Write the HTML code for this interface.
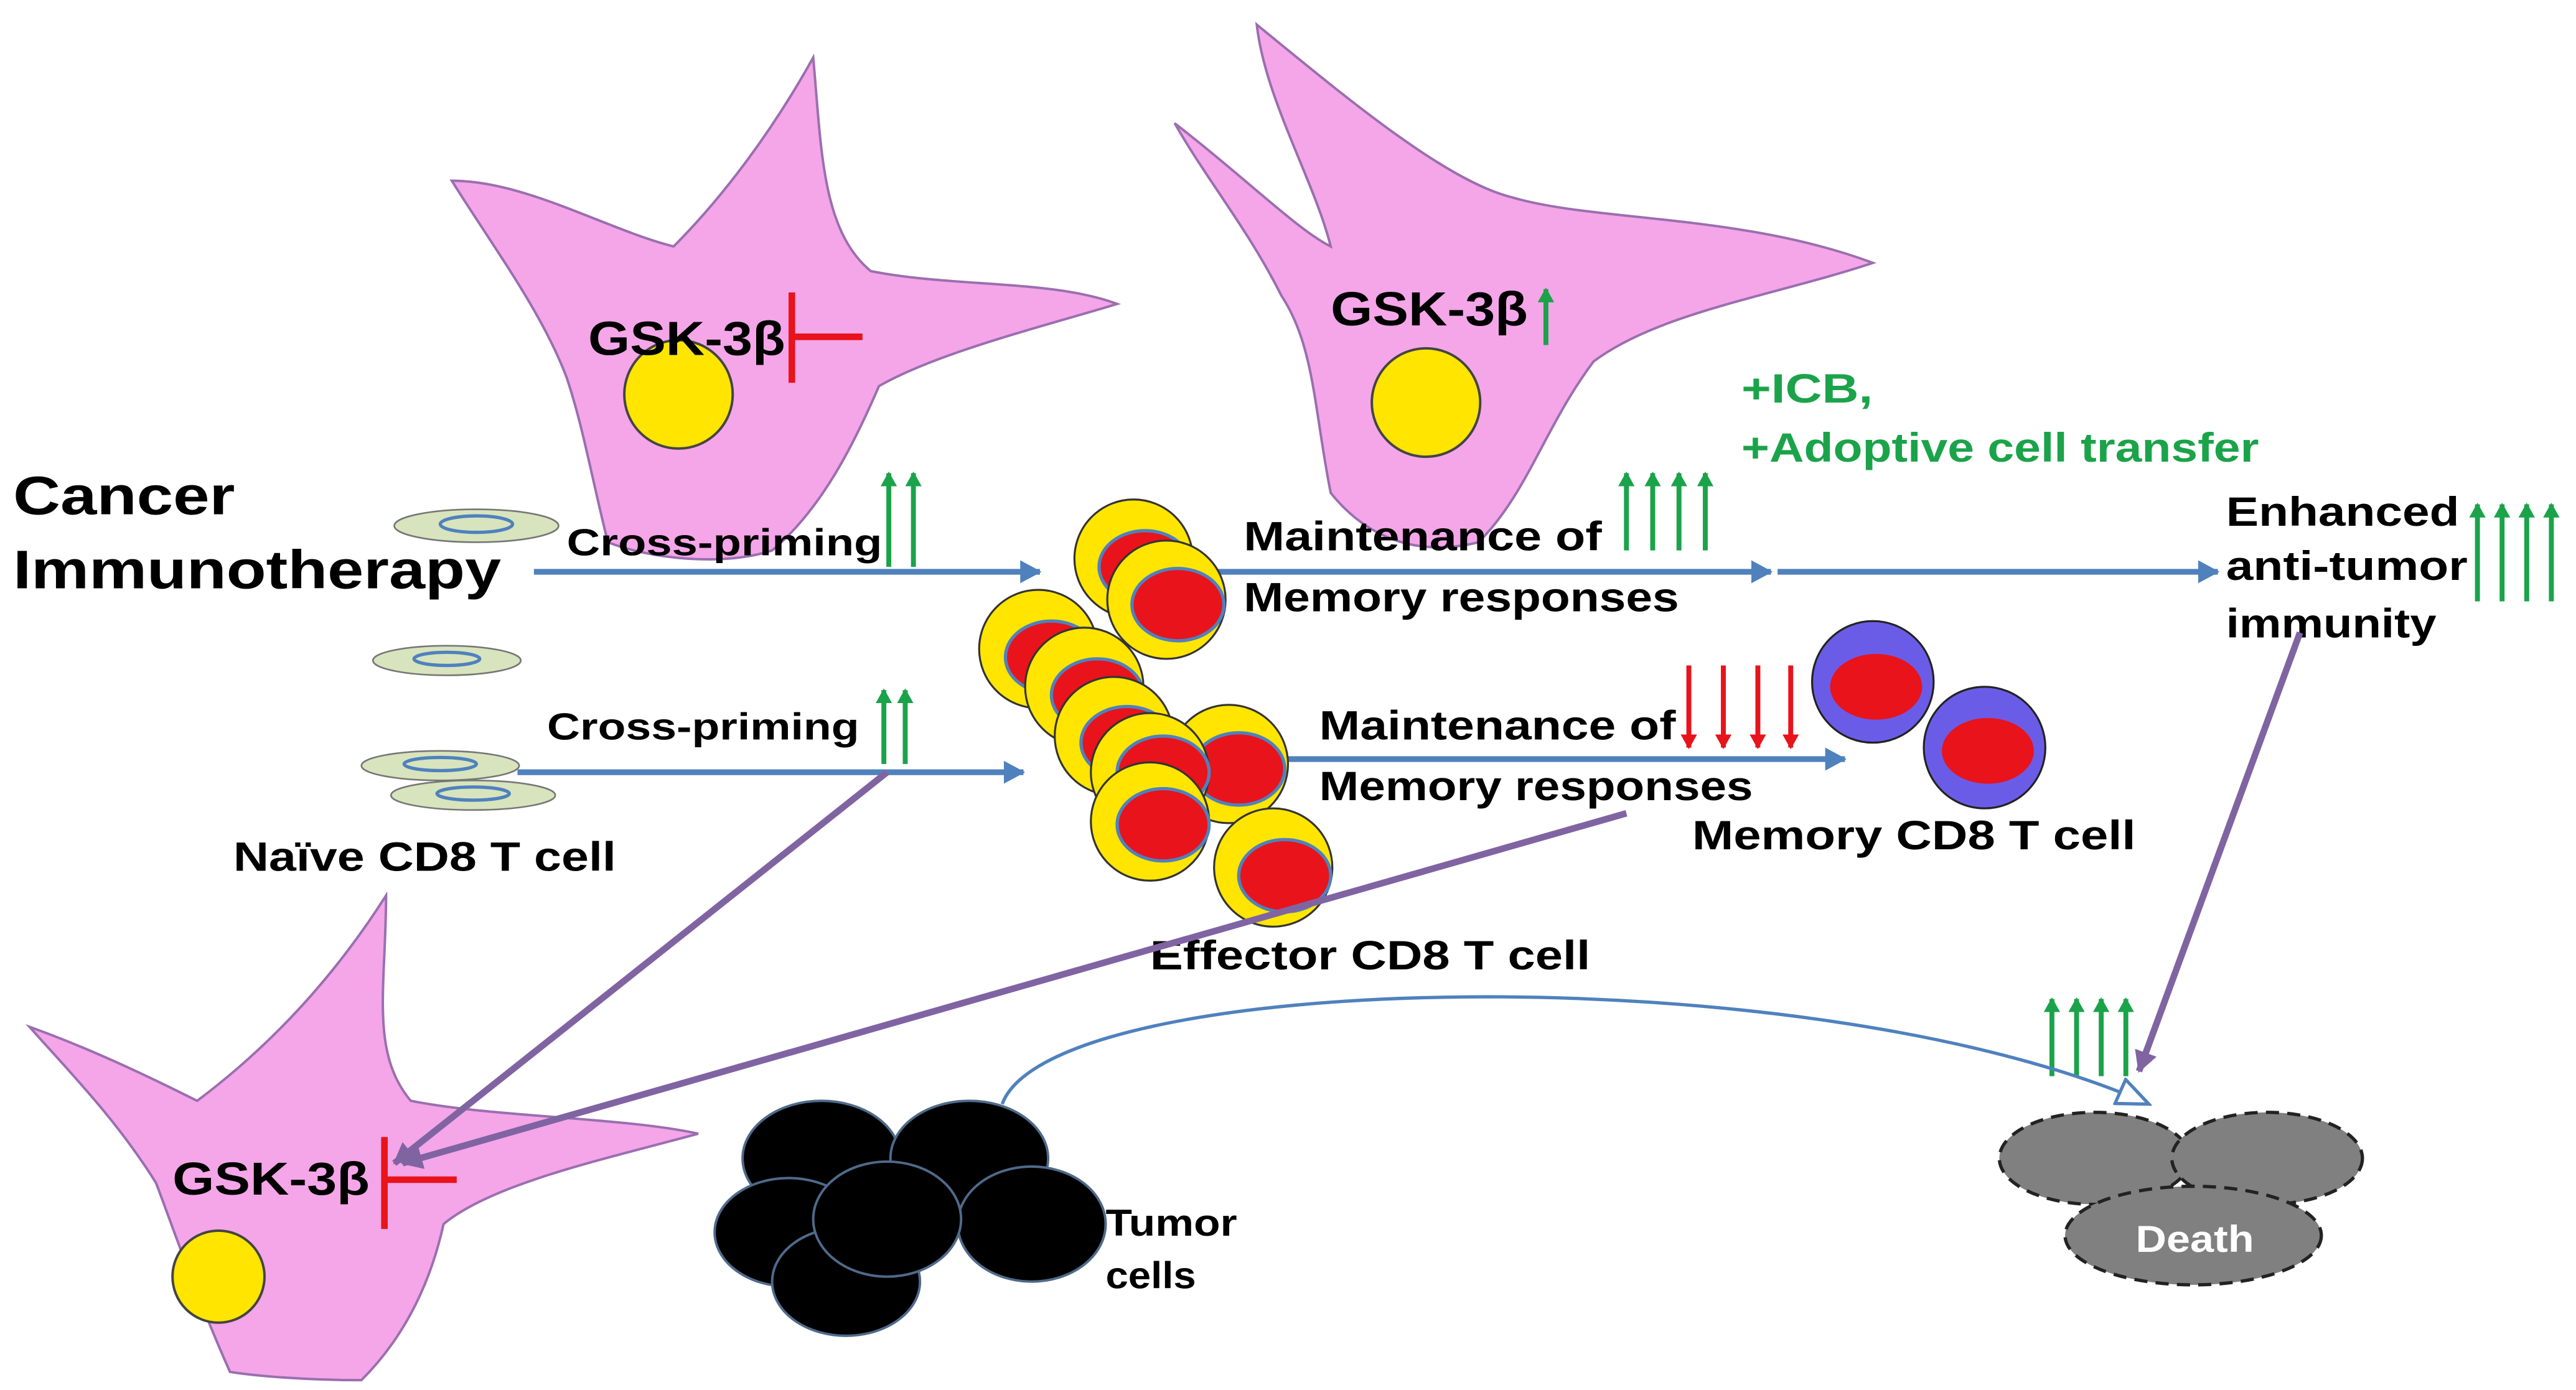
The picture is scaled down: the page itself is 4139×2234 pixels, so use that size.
<!DOCTYPE html>
<html><head><meta charset="utf-8"><style>html,body{margin:0;padding:0;background:#fff}svg{display:block}text{font-family:"Liberation Sans",sans-serif;font-weight:bold}</style></head>
<body>
<svg width="4139" height="2234" viewBox="0 0 1568 846" preserveAspectRatio="none" xmlns="http://www.w3.org/2000/svg">
<defs>
<marker id="bl2" markerWidth="14" markerHeight="14" refX="12" refY="7" orient="auto" markerUnits="userSpaceOnUse"><path d="M0,0 L13,7 L0,14z" fill="#4F81BD"/></marker>
<marker id="pu" markerWidth="14" markerHeight="14" refX="12" refY="7" orient="auto" markerUnits="userSpaceOnUse"><path d="M0,0 L13,7 L0,14z" fill="#8064A2"/></marker>
<marker id="gr" markerWidth="10" markerHeight="10" refX="8" refY="5" orient="auto" markerUnits="userSpaceOnUse"><path d="M0,0 L9,5 L0,10z" fill="#1BA34A"/></marker>
<marker id="rd" markerWidth="10" markerHeight="10" refX="8" refY="5" orient="auto" markerUnits="userSpaceOnUse"><path d="M0,0 L9,5 L0,10z" fill="#E8131B"/></marker>
<marker id="op" markerWidth="22" markerHeight="18" refX="20" refY="9" orient="auto" markerUnits="userSpaceOnUse"><path d="M1,1 L20,9 L1,17z" fill="#fff" stroke="#4F81BD" stroke-width="2"/></marker>
</defs>
<path d="M275,110 C320,110 370,140 410,150 C440,120 470,80 495,35 C500,90 500,140 530,165 C580,175 640,170 680,185 C630,200 570,215 535,235 C520,270 500,310 470,335 C440,345 395,340 370,330 C360,290 355,260 345,230 C330,190 300,150 275,110Z" fill="#F4A6E8" stroke="#9A6FB0" stroke-width="1.5"/>
<path d="M715,75 C760,110 790,140 810,150 C800,110 770,60 765,15 C820,60 880,110 920,120 C970,135 1060,130 1140,160 C1080,180 1010,190 970,220 C940,260 930,300 900,330 C860,340 830,325 810,300 C800,250 800,210 780,180 C760,140 735,110 715,75Z" fill="#F4A6E8" stroke="#9A6FB0" stroke-width="1.5"/>
<path d="M18,625 C60,640 100,660 120,670 C160,640 200,600 235,545 C235,600 225,640 250,670 C300,680 380,680 425,690 C370,705 300,720 270,745 C260,790 240,820 220,840 C190,840 160,838 140,835 C120,790 110,760 95,720 C70,680 40,650 18,625Z" fill="#F4A6E8" stroke="#9A6FB0" stroke-width="1.5"/>
<circle cx="413" cy="240" r="33" fill="#FFE500" stroke="#444" stroke-width="1.5"/>
<circle cx="868" cy="245" r="33" fill="#FFE500" stroke="#444" stroke-width="1.5"/>
<circle cx="133" cy="777" r="28" fill="#FFE500" stroke="#444" stroke-width="1.5"/>
<text x="358" y="216" font-size="29" textLength="120" lengthAdjust="spacingAndGlyphs">GSK-3β</text>
<text x="810" y="198" font-size="29" textLength="120" lengthAdjust="spacingAndGlyphs">GSK-3β</text>
<text x="105" y="727" font-size="28" textLength="120" lengthAdjust="spacingAndGlyphs">GSK-3β</text>
<g stroke="#E8131B" stroke-width="4"><line x1="482" y1="205" x2="525" y2="205"/><line x1="482" y1="178" x2="482" y2="233"/><line x1="234" y1="718" x2="278" y2="718"/><line x1="234" y1="692" x2="234" y2="748"/></g>
<line x1="941" y1="210" x2="941" y2="176" stroke="#1BA34A" stroke-width="3" marker-end="url(#gr)"/>
<text x="8" y="313" font-size="33" textLength="135" lengthAdjust="spacingAndGlyphs">Cancer</text>
<text x="8" y="358" font-size="33" textLength="297" lengthAdjust="spacingAndGlyphs">Immunotherapy</text>
<text x="1060" y="245" font-size="25" fill="#1BA34A" textLength="80" lengthAdjust="spacingAndGlyphs">+ICB,</text>
<text x="1060" y="281" font-size="25" fill="#1BA34A" textLength="315" lengthAdjust="spacingAndGlyphs">+Adoptive cell transfer</text>
<g fill="#D7E4BD" stroke="#777" stroke-width="1"><ellipse cx="290" cy="320" rx="50" ry="10"/><ellipse cx="272" cy="402" rx="45" ry="9"/><ellipse cx="268" cy="466" rx="48" ry="9"/><ellipse cx="288" cy="484" rx="50" ry="9"/></g>
<g fill="none" stroke="#4F81BD" stroke-width="2"><ellipse cx="290" cy="319" rx="22" ry="5"/><ellipse cx="272" cy="401" rx="20" ry="4"/><ellipse cx="268" cy="465" rx="22" ry="4"/><ellipse cx="288" cy="483" rx="22" ry="4"/></g>
<g stroke="#4F81BD" stroke-width="3.5"><line x1="325" y1="348" x2="633" y2="348" marker-end="url(#bl2)"/><line x1="730" y1="348" x2="1078" y2="348" marker-end="url(#bl2)"/><line x1="1082" y1="348" x2="1350" y2="348" marker-end="url(#bl2)"/><line x1="315" y1="470" x2="623" y2="470" marker-end="url(#bl2)"/><line x1="775" y1="462" x2="1123" y2="462" marker-end="url(#bl2)"/></g>
<g stroke="#333" stroke-width="1.2">
<g><circle cx="690" cy="340" r="36" fill="#FFE500"/><ellipse cx="697" cy="345" rx="28" ry="22" fill="#E8131B" stroke="#4F81BD" stroke-width="2"/></g>
<g><circle cx="710" cy="365" r="36" fill="#FFE500"/><ellipse cx="717" cy="368" rx="28" ry="22" fill="#E8131B" stroke="#4F81BD" stroke-width="2"/></g>
<g><circle cx="632" cy="395" r="36" fill="#FFE500"/><ellipse cx="640" cy="400" rx="28" ry="22" fill="#E8131B" stroke="#4F81BD" stroke-width="2"/></g>
<g><circle cx="660" cy="418" r="36" fill="#FFE500"/><ellipse cx="668" cy="423" rx="28" ry="22" fill="#E8131B" stroke="#4F81BD" stroke-width="2"/></g>
<g><circle cx="678" cy="448" r="36" fill="#FFE500"/><ellipse cx="686" cy="452" rx="28" ry="22" fill="#E8131B" stroke="#4F81BD" stroke-width="2"/></g>
<g><circle cx="748" cy="465" r="36" fill="#FFE500"/><ellipse cx="754" cy="468" rx="28" ry="22" fill="#E8131B" stroke="#4F81BD" stroke-width="2"/></g>
<g><circle cx="700" cy="470" r="36" fill="#FFE500"/><ellipse cx="708" cy="470" rx="28" ry="22" fill="#E8131B" stroke="#4F81BD" stroke-width="2"/></g>
<g><circle cx="700" cy="500" r="36" fill="#FFE500"/><ellipse cx="708" cy="502" rx="28" ry="22" fill="#E8131B" stroke="#4F81BD" stroke-width="2"/></g>
<g><circle cx="775" cy="528" r="36" fill="#FFE500"/><ellipse cx="782" cy="533" rx="28" ry="22" fill="#E8131B" stroke="#4F81BD" stroke-width="2"/></g>
</g>
<circle cx="1140" cy="415" r="37" fill="#6B5CE8" stroke="#222" stroke-width="1.2"/><ellipse cx="1142" cy="418" rx="28" ry="20" fill="#E8131B"/>
<circle cx="1208" cy="455" r="37" fill="#6B5CE8" stroke="#222" stroke-width="1.2"/><ellipse cx="1210" cy="457" rx="28" ry="20" fill="#E8131B"/>
<text x="345" y="338" font-size="23" textLength="192" lengthAdjust="spacingAndGlyphs">Cross-priming</text>
<text x="333" y="450" font-size="23" textLength="190" lengthAdjust="spacingAndGlyphs">Cross-priming</text>
<text x="757" y="335" font-size="25" textLength="218" lengthAdjust="spacingAndGlyphs">Maintenance of</text>
<text x="757" y="372" font-size="25" textLength="265" lengthAdjust="spacingAndGlyphs">Memory responses</text>
<text x="803" y="450" font-size="25" textLength="217" lengthAdjust="spacingAndGlyphs">Maintenance of</text>
<text x="803" y="487" font-size="25" textLength="264" lengthAdjust="spacingAndGlyphs">Memory responses</text>
<text x="1355" y="320" font-size="25" textLength="142" lengthAdjust="spacingAndGlyphs">Enhanced</text>
<text x="1355" y="353" font-size="25" textLength="147" lengthAdjust="spacingAndGlyphs">anti-tumor</text>
<text x="1355" y="388" font-size="25" textLength="128" lengthAdjust="spacingAndGlyphs">immunity</text>
<text x="1030" y="517" font-size="25" textLength="270" lengthAdjust="spacingAndGlyphs">Memory CD8 T cell</text>
<text x="142" y="530" font-size="25" textLength="233" lengthAdjust="spacingAndGlyphs">Naïve CD8 T cell</text>
<text x="700" y="590" font-size="25" textLength="268" lengthAdjust="spacingAndGlyphs">Effector CD8 T cell</text>
<g stroke="#1BA34A" stroke-width="3">
<line x1="541" y1="345" x2="541" y2="288" marker-end="url(#gr)"/><line x1="556" y1="345" x2="556" y2="288" marker-end="url(#gr)"/>
<line x1="538" y1="465" x2="538" y2="420" marker-end="url(#gr)"/><line x1="551" y1="465" x2="551" y2="420" marker-end="url(#gr)"/>
<line x1="990" y1="335" x2="990" y2="288" marker-end="url(#gr)"/><line x1="1006" y1="335" x2="1006" y2="288" marker-end="url(#gr)"/><line x1="1022" y1="335" x2="1022" y2="288" marker-end="url(#gr)"/><line x1="1038" y1="335" x2="1038" y2="288" marker-end="url(#gr)"/>
<line x1="1508" y1="366" x2="1508" y2="307" marker-end="url(#gr)"/><line x1="1523" y1="366" x2="1523" y2="307" marker-end="url(#gr)"/><line x1="1538" y1="366" x2="1538" y2="307" marker-end="url(#gr)"/><line x1="1553" y1="366" x2="1553" y2="307" marker-end="url(#gr)"/>
<line x1="1249" y1="655" x2="1249" y2="608" marker-end="url(#gr)"/><line x1="1264" y1="655" x2="1264" y2="608" marker-end="url(#gr)"/><line x1="1279" y1="655" x2="1279" y2="608" marker-end="url(#gr)"/><line x1="1294" y1="655" x2="1294" y2="608" marker-end="url(#gr)"/>
</g>
<g stroke="#E8131B" stroke-width="3">
<line x1="1028" y1="405" x2="1028" y2="455" marker-end="url(#rd)"/><line x1="1049" y1="405" x2="1049" y2="455" marker-end="url(#rd)"/><line x1="1070" y1="405" x2="1070" y2="455" marker-end="url(#rd)"/><line x1="1090" y1="405" x2="1090" y2="455" marker-end="url(#rd)"/>
</g>
<g stroke="#8064A2" stroke-width="4"><line x1="1400" y1="385" x2="1302" y2="652" marker-end="url(#pu)"/><line x1="540" y1="470" x2="240" y2="708" marker-end="url(#pu)"/><line x1="990" y1="495" x2="245" y2="708" marker-end="url(#pu)"/></g>
<g fill="#000" stroke="#4F6A8A" stroke-width="1.5"><ellipse cx="500" cy="705" rx="48" ry="35"/><ellipse cx="590" cy="705" rx="48" ry="35"/><ellipse cx="480" cy="750" rx="45" ry="33"/><ellipse cx="628" cy="745" rx="45" ry="35"/><ellipse cx="515" cy="780" rx="45" ry="33"/><ellipse cx="540" cy="742" rx="45" ry="35"/></g>
<text x="673" y="752" font-size="23" textLength="80" lengthAdjust="spacingAndGlyphs">Tumor</text>
<text x="673" y="784" font-size="23" textLength="55" lengthAdjust="spacingAndGlyphs">cells</text>
<path d="M610,672 C640,590 1100,580 1308,672" fill="none" stroke="#4F81BD" stroke-width="2" marker-end="url(#op)"/>
<g fill="#808080" stroke="#222" stroke-width="2" stroke-dasharray="8,5"><ellipse cx="1275" cy="705" rx="58" ry="28"/><ellipse cx="1380" cy="705" rx="58" ry="28"/><ellipse cx="1335" cy="752" rx="78" ry="30"/></g>
<text x="1300" y="762" font-size="23" fill="#fff" font-weight="normal" textLength="72" lengthAdjust="spacingAndGlyphs">Death</text>
</svg>
</body></html>
